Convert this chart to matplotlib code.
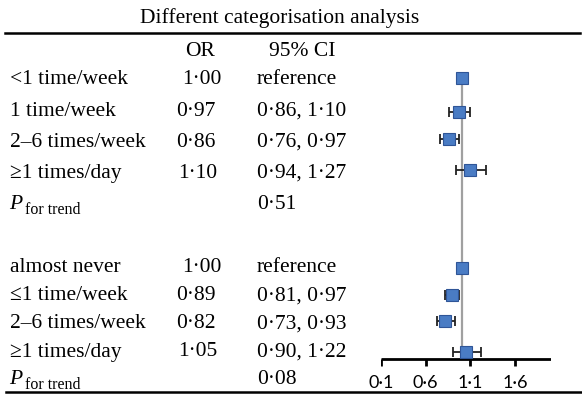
import matplotlib
matplotlib.use("Agg")
import matplotlib.pyplot as plt

title = "Different categorisation analysis"
col_headers = ["OR", "95% CI"]
labels = ["<1 time/week", "1 time/week", "2\u20136 times/week", "\u22651 times/day", "P",
          "almost never", "\u22641 time/week", "2\u20136 times/week", "\u22651 times/day", "P"]
or_text = ["1\u00b700", "0\u00b797", "0\u00b786", "1\u00b710", "",
           "1\u00b700", "0\u00b789", "0\u00b782", "1\u00b705", ""]
ci_text = ["reference", "0\u00b786, 1\u00b710", "0\u00b776, 0\u00b797", "0\u00b794, 1\u00b727", "0\u00b751",
           "reference", "0\u00b781, 0\u00b797", "0\u00b773, 0\u00b793", "0\u00b790, 1\u00b722", "0\u00b708"]
or_vals = [1.00, 0.97, 0.86, 1.10, None, 1.00, 0.89, 0.82, 1.05, None]
ci_low = [1.00, 0.86, 0.76, 0.94, None, 1.00, 0.81, 0.73, 0.90, None]
ci_high = [1.00, 1.10, 0.97, 1.27, None, 1.00, 0.97, 0.93, 1.22, None]
xticks = [0.1, 0.6, 1.1, 1.6]
xtick_labels = ["0\u00b71", "0\u00b76", "1\u00b71", "1\u00b76"]

# layout (pixel positions)
W, H = 582, 394
row_y = [79, 111, 142, 173, 205, 267, 296, 324, 352, 380]
marker_y = [78, 112, 139, 170, None, 268, 295, 321, 352, None]
or_x = [182, 176, 176, 178, 0, 182, 176, 176, 178, 0]

fig = plt.figure(figsize=(W / 100, H / 100), dpi=100)
serif = ["Liberation Serif", "DejaVu Serif"]
fs = 15.5

def fx(px):
    return px / W

def fy(py):
    return 1 - py / H

fig.text(fx(280), fy(18), title, family=serif, fontsize=fs, ha="center", va="center")
fig.add_artist(plt.Line2D([fx(5), fx(580)], [fy(33), fy(33)], color="black", lw=1.8))
fig.add_artist(plt.Line2D([fx(6), fx(582)], [fy(392), fy(392)], color="black", lw=1.8))
fig.text(fx(200), fy(51), col_headers[0], family=serif, fontsize=fs, ha="center", va="center")
fig.text(fx(302), fy(51), col_headers[1], family=serif, fontsize=fs, ha="center", va="center")

for i, lab in enumerate(labels):
    y = row_y[i]
    if lab == "P":
        fig.text(fx(9), fy(y), "P", family=serif, fontsize=fs, style="italic", ha="left", va="center")
        fig.text(fx(25), fy(y + 5), "for trend", family=serif, fontsize=11.5, ha="left", va="center")
    else:
        fig.text(fx(10), fy(y), lab, family=serif, fontsize=fs, ha="left", va="center")
    if or_text[i]:
        fig.text(fx(or_x[i]), fy(y), or_text[i], family=serif, fontsize=fs, ha="left", va="center")
    fig.text(fx(257), fy(y), ci_text[i], family=serif, fontsize=fs, ha="left", va="center")

# forest plot axes spanning full height in pixel coordinates
x0_px, x1_px = 381, 551
ax = fig.add_axes([fx(x0_px), 0, fx(x1_px) - fx(x0_px), 1])
ax.set_xlim(0.1, 2.0)
ax.set_ylim(H, 0)
ax.axis("off")

axis_y = 359
ax.plot([0.1, 2.0], [axis_y, axis_y], color="black", lw=2, solid_capstyle="butt")
for t, tl in zip(xticks, xtick_labels):
    ax.plot([t, t], [axis_y, axis_y + 7], color="black", lw=2, solid_capstyle="butt")
    ax.text(t, 383, tl, family=["Lato", "DejaVu Sans"], fontsize=13, ha="center", va="center")

ax.plot([1.0, 1.0], [78, axis_y], color="#a0a0a0", lw=1.6, zorder=1)

for i in range(len(or_vals)):
    if or_vals[i] is None:
        continue
    y = marker_y[i]
    lo, hi = ci_low[i], ci_high[i]
    if hi > lo:
        ax.errorbar(or_vals[i], y, xerr=[[or_vals[i] - lo], [hi - or_vals[i]]], fmt="none",
                    ecolor="#222222", elinewidth=1.3, capsize=3.8, capthick=1.3, zorder=2)
    ax.plot(or_vals[i], y, marker="s", markersize=8, markerfacecolor="#4a7cc4",
            markeredgecolor="#2f5597", markeredgewidth=0.8, zorder=3)

fig.savefig("out.png", dpi=100)
